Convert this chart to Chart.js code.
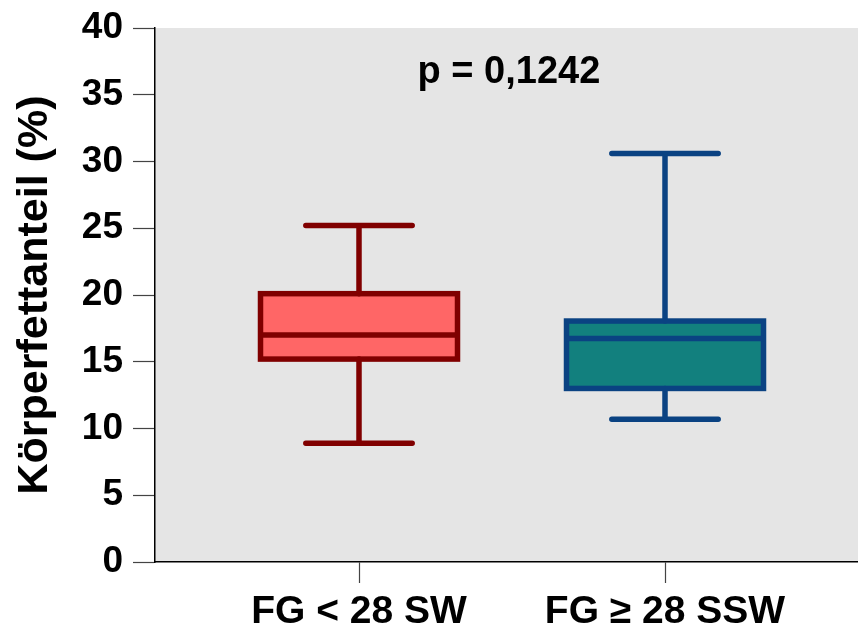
<!DOCTYPE html>
<html>
<head>
<meta charset="utf-8">
<script src="https://cdn.jsdelivr.net/npm/chart.js@4.4.1/dist/chart.umd.min.js"></script>
<style>
  html, body { margin: 0; padding: 0; background: #ffffff; }
  #wrap { width: 858px; height: 626px; }
</style>
</head>
<body>
<div id="wrap"><canvas id="grafico" width="858" height="626"></canvas></div>
<script>
// Datos del boxplot
const categorias = ['FG < 28 SW', 'FG \u2265 28 SSW'];
const minimos   = [8.9, 10.7];
const cuartil1  = [15.2, 13.0];
const medianas  = [17.0, 16.75];
const cuartil3  = [20.1, 18.05];
const maximos   = [25.2, 30.6];
const ticksY    = [0, 5, 10, 15, 20, 25, 30, 35, 40];
const textoP    = 'p = 0,1242';

const rellenos = ['#ff6666', '#12807e'];
const bordes   = ['#800000', '#0a4282'];

const FUENTE = "'Liberation Sans', Arial, sans-serif";

// Fondo gris del área de trazado
const fondoGris = {
    id: 'fondoGris',
    beforeDraw(chart) {
        const { ctx, chartArea: a } = chart;
        ctx.save();
        ctx.fillStyle = '#e5e5e5';
        ctx.fillRect(a.left, a.top, a.right - a.left, a.bottom - a.top);
        ctx.restore();
    }
};

// Bigotes, mediana y contorno de las cajas
const cajas = {
    id: 'cajas',
    afterDatasetsDraw(chart) {
        const { ctx, scales: { y } } = chart;
        const meta = chart.getDatasetMeta(0);
        ctx.save();
        ctx.lineWidth = 5.5;
        meta.data.forEach((bar, i) => {
            const cx = bar.x;
            const half = bar.width / 2;
            const cap = bar.width * 0.27;
            const yMin = y.getPixelForValue(minimos[i]);
            const yQ1 = y.getPixelForValue(cuartil1[i]);
            const yMed = y.getPixelForValue(medianas[i]);
            const yQ3 = y.getPixelForValue(cuartil3[i]);
            const yMax = y.getPixelForValue(maximos[i]);
            ctx.strokeStyle = bordes[i];

            ctx.lineCap = 'round';
            ctx.beginPath();
            ctx.moveTo(cx, yQ3); ctx.lineTo(cx, yMax);
            ctx.moveTo(cx - cap, yMax); ctx.lineTo(cx + cap, yMax);
            ctx.moveTo(cx, yQ1); ctx.lineTo(cx, yMin);
            ctx.moveTo(cx - cap, yMin); ctx.lineTo(cx + cap, yMin);
            ctx.stroke();

            ctx.lineCap = 'butt';
            ctx.strokeRect(cx - half, yQ3, bar.width, yQ1 - yQ3);
            ctx.beginPath();
            ctx.moveTo(cx - half, yMed); ctx.lineTo(cx + half, yMed);
            ctx.stroke();
        });
        ctx.restore();
    }
};

// Texto del valor p
const valorP = {
    id: 'valorP',
    afterDraw(chart) {
        const { ctx, scales: { x, y } } = chart;
        ctx.save();
        ctx.font = `bold 38px ${FUENTE}`;
        ctx.fillStyle = '#000000';
        ctx.textAlign = 'center';
        ctx.textBaseline = 'alphabetic';
        ctx.fillText(textoP, x.getPixelForValue(1.49), y.getPixelForValue(35.9));
        ctx.restore();
    }
};

new Chart(document.getElementById('grafico'), {
    type: 'bar',
    data: {
        datasets: [{
            data: categorias.map((c, i) => ({ x: i + 1, y: [cuartil1[i], cuartil3[i]] })),
            backgroundColor: rellenos,
            borderWidth: 0,
            barThickness: 197
        }]
    },
    options: {
        responsive: false,
        animation: false,
        events: [],
        layout: { padding: { top: 28, right: 0, bottom: 0, left: 0 } },
        plugins: {
            legend: { display: false },
            tooltip: { enabled: false }
        },
        scales: {
            x: {
                type: 'linear',
                offset: false,
                min: 1 / 3,
                max: 2.6307,
                afterBuildTicks: (eje) => { eje.ticks = categorias.map((c, i) => ({ value: i + 1 })); },
                afterFit: (eje) => { eje.height = 64; eje.paddingLeft = 0; eje.paddingRight = 0; },
                grid: { offset: false, drawOnChartArea: false, drawTicks: true, tickLength: 21, tickColor: '#444444', tickWidth: 1.2 },
                border: { display: true, color: '#000000', width: 1.5 },
                ticks: {
                    autoSkip: false,
                    maxRotation: 0,
                    padding: 6,
                    color: '#000000',
                    font: { family: FUENTE, size: 39, weight: 'bold' },
                    callback: (v) => categorias[Math.round(v) - 1] || ''
                }
            },
            y: {
                min: 0,
                max: 40,
                afterBuildTicks: (eje) => { eje.ticks = ticksY.map(v => ({ value: v })); },
                afterFit: (eje) => { eje.width = 155; eje.paddingTop = 0; eje.paddingBottom = 0; },
                grid: { drawOnChartArea: false, drawTicks: true, tickLength: 22, tickColor: '#444444', tickWidth: 1.2 },
                border: { display: true, color: '#000000', width: 1.5 },
                ticks: {
                    padding: 10,
                    color: '#000000',
                    font: { family: FUENTE, size: 37, weight: 'bold' }
                },
                title: {
                    display: true,
                    text: 'Körperfettanteil (%)',
                    color: '#000000',
                    padding: { top: 9, bottom: 0 },
                    font: { family: FUENTE, size: 43, weight: 'bold' }
                }
            }
        }
    },
    plugins: [fondoGris, cajas, valorP]
});
</script>
</body>
</html>
